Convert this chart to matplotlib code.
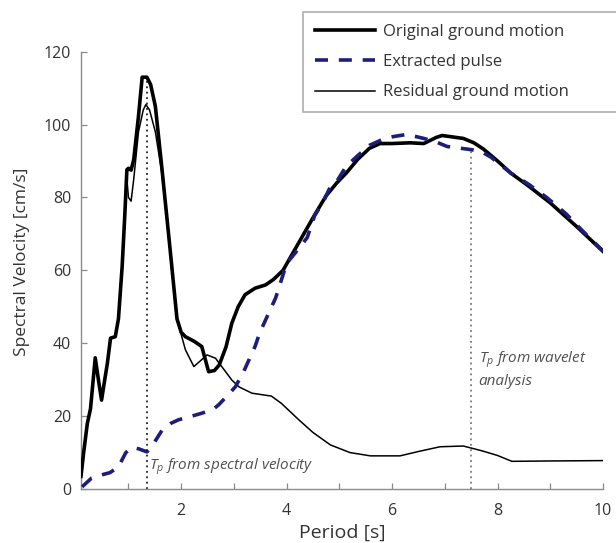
import matplotlib

matplotlib.use("Agg")
import matplotlib.pyplot as plt
import numpy as np

plt.rcParams["font.family"] = ["Open Sans", "DejaVu Sans"]
plt.rcParams["mathtext.fontset"] = "custom"
plt.rcParams["mathtext.it"] = "Open Sans:italic"
plt.rcParams["mathtext.rm"] = "Open Sans"

# Original ground motion (thick black)
orig_period = [0.10, 0.15, 0.22, 0.28, 0.37, 0.43, 0.49, 0.55, 0.60, 0.66, 0.75,
               0.81, 0.88, 0.93, 0.97, 1.00, 1.05, 1.10, 1.19, 1.26, 1.35, 1.42,
               1.51, 1.63, 1.79, 1.92, 2.00, 2.08, 2.25, 2.39, 2.52, 2.63, 2.72,
               2.85, 2.96, 3.08, 3.21, 3.40, 3.60, 3.75, 3.93, 4.23, 4.53, 4.75,
               4.95, 5.13, 5.35, 5.57, 5.77, 6.00, 6.34, 6.60, 6.84, 6.95, 7.35,
               7.55, 7.73, 8.00, 8.25, 8.60, 9.00, 9.50, 10.0]
orig_sv = [3.5, 10, 18, 22, 36, 30, 24.4, 30, 34.5, 41.4, 41.8,
           46.7, 61, 75, 87.6, 88, 87.5, 90.4, 102.3, 113, 113, 111,
           105, 88.6, 65.7, 46.7, 43, 41.8, 40.5, 39.1, 32.2, 32.5, 34,
           39, 45.5, 50, 53.3, 55.1, 56, 57.5, 60, 67.6, 75.2, 80.5,
           84, 86.7, 90.5, 93.5, 94.8, 94.8, 95, 94.8, 96.5, 97, 96.2,
           95, 93.3, 90, 86.7, 83, 78.5, 72, 65.2]

# Extracted pulse (dashed navy)
pulse_period = [0.12, 0.30, 0.47, 0.65, 0.81, 0.95, 1.07, 1.20, 1.35, 1.50, 1.64,
                1.80, 1.95, 2.20, 2.39, 2.60, 2.71, 2.90, 3.03, 3.19, 3.40, 3.49,
                3.79, 4.00, 4.23, 4.39, 4.53, 4.70, 4.83, 4.95, 5.13, 5.35, 5.57,
                5.80, 6.02, 6.28, 6.60, 6.84, 7.04, 7.30, 7.51, 7.70, 7.88, 8.25,
                8.60, 8.93, 9.30, 9.60, 10.0]
pulse_sv = [0.6, 3, 3.8, 4.5, 6.1, 10, 11.5, 11, 10.2, 13, 16.2,
            18, 19, 20, 20.8, 21.8, 23.1, 26, 28.1, 32.4, 39.1, 42.9,
            52.4, 61.9, 66, 69, 75, 79, 83, 84.4, 88.6, 91.5, 94.3,
            95.8, 96.7, 97.3, 96.2, 95.2, 94, 93.5, 93.1, 92.5, 91, 86.7,
            83.5, 80, 75.5, 71, 65.3]

# Residual ground motion (thin black)
resid_period = [0.10, 0.15, 0.22, 0.28, 0.37, 0.43, 0.49, 0.55, 0.60, 0.66, 0.75,
                0.81, 0.88, 0.93, 0.97, 1.00, 1.05, 1.10, 1.19, 1.28, 1.33, 1.40,
                1.51, 1.63, 1.79, 1.89, 1.95, 2.08, 2.24, 2.35, 2.49, 2.65, 2.80,
                2.96, 3.10, 3.34, 3.71, 3.90, 4.23, 4.50, 4.83, 5.20, 5.59, 6.15,
                6.50, 6.91, 7.35, 7.70, 8.00, 8.27, 9.00, 10.0]
resid_sv = [3.5, 10, 18, 22, 36, 30, 24.4, 30, 34.5, 41.4, 41.8,
            46.7, 61, 75, 85, 80, 79, 85, 98, 104, 105.5, 104,
            98, 87, 65, 50, 45, 38.2, 33.6, 35, 36.8, 35.9, 33,
            29.9, 28, 26.3, 25.5, 23.5, 19, 15.5, 12.1, 10, 9.1, 9.1,
            10.3, 11.6, 11.8, 10.5, 9.2, 7.6, 7.7, 7.8]

tp_spectral = 1.35
tp_wavelet = 7.5

navy = "#1e1e78"
spine_grey = "#8a8a8a"

fig = plt.figure(figsize=(6.16, 5.43), dpi=100)
ax = fig.add_axes([0.1315, 0.0994, 0.8475, 0.8054])

l1, = ax.plot(orig_period, orig_sv, color="black", lw=2.6, solid_joinstyle="round",
              label="Original ground motion", zorder=3)
l2, = ax.plot(pulse_period, pulse_sv, color=navy, lw=2.6, dashes=(3.6, 3.0),
              label="Extracted pulse", zorder=4)
l3, = ax.plot(resid_period, resid_sv, color="black", lw=1.1,
              label="Residual ground motion", zorder=3)

# Pulse-period markers
ax.vlines(tp_spectral, 0, max(orig_sv), colors="#222222", linestyles=(0, (1, 2)), lw=1.3, zorder=2)
ax.vlines(tp_wavelet, 0, np.interp(tp_wavelet, pulse_period, pulse_sv),
          colors="#7a7a7a", linestyles=(0, (1, 2)), lw=1.3, zorder=2)

ax.text(1.38, 3.2, r"$T_p$ from spectral velocity", style="italic", fontsize=11,
        color="#505050", va="bottom", ha="left")
ax.text(7.64, 27.5, "$T_p$ from wavelet\nanalysis", style="italic", fontsize=11,
        color="#505050", va="bottom", ha="left", linespacing=1.35)

ax.set_xlim(0.1, 10)
ax.set_ylim(0, 120)
ax.set_xticks(range(1, 11))
ax.set_xticklabels([str(v) if v % 2 == 0 else "" for v in range(1, 11)])
ax.set_yticks(range(0, 121, 20))

for side in ("top", "right"):
    ax.spines[side].set_visible(False)
for side in ("left", "bottom"):
    ax.spines[side].set_color(spine_grey)
    ax.spines[side].set_linewidth(1.0)

ax.tick_params(axis="both", direction="in", length=4, width=0.9, color=spine_grey,
               labelsize=11.5, labelcolor="#333333")
ax.tick_params(axis="x", pad=10)
ax.tick_params(axis="y", pad=7)

ax.set_xlabel("Period [s]", fontsize=14, color="#333333")
ax.set_ylabel("Spectral Velocity [cm/s]", fontsize=12.5, color="#333333")
ax.xaxis.set_label_coords(0.5, -0.08)
ax.yaxis.set_label_coords(-0.098, 0.52)

leg = fig.legend(handles=[l1, l2, l3], loc="upper left",
                 bbox_to_anchor=(0.492, 0.797, 0.53, 0.18), mode="expand",
                 borderaxespad=0, fontsize=12, frameon=True, fancybox=False,
                 handlelength=3.6, handletextpad=0.5, labelspacing=0.85,
                 borderpad=0.7)
leg.get_frame().set_edgecolor("#9a9a9a")
leg.get_frame().set_linewidth(1.2)
for t in leg.get_texts():
    t.set_color("#333333")

fig.savefig("out.png", dpi=100)
